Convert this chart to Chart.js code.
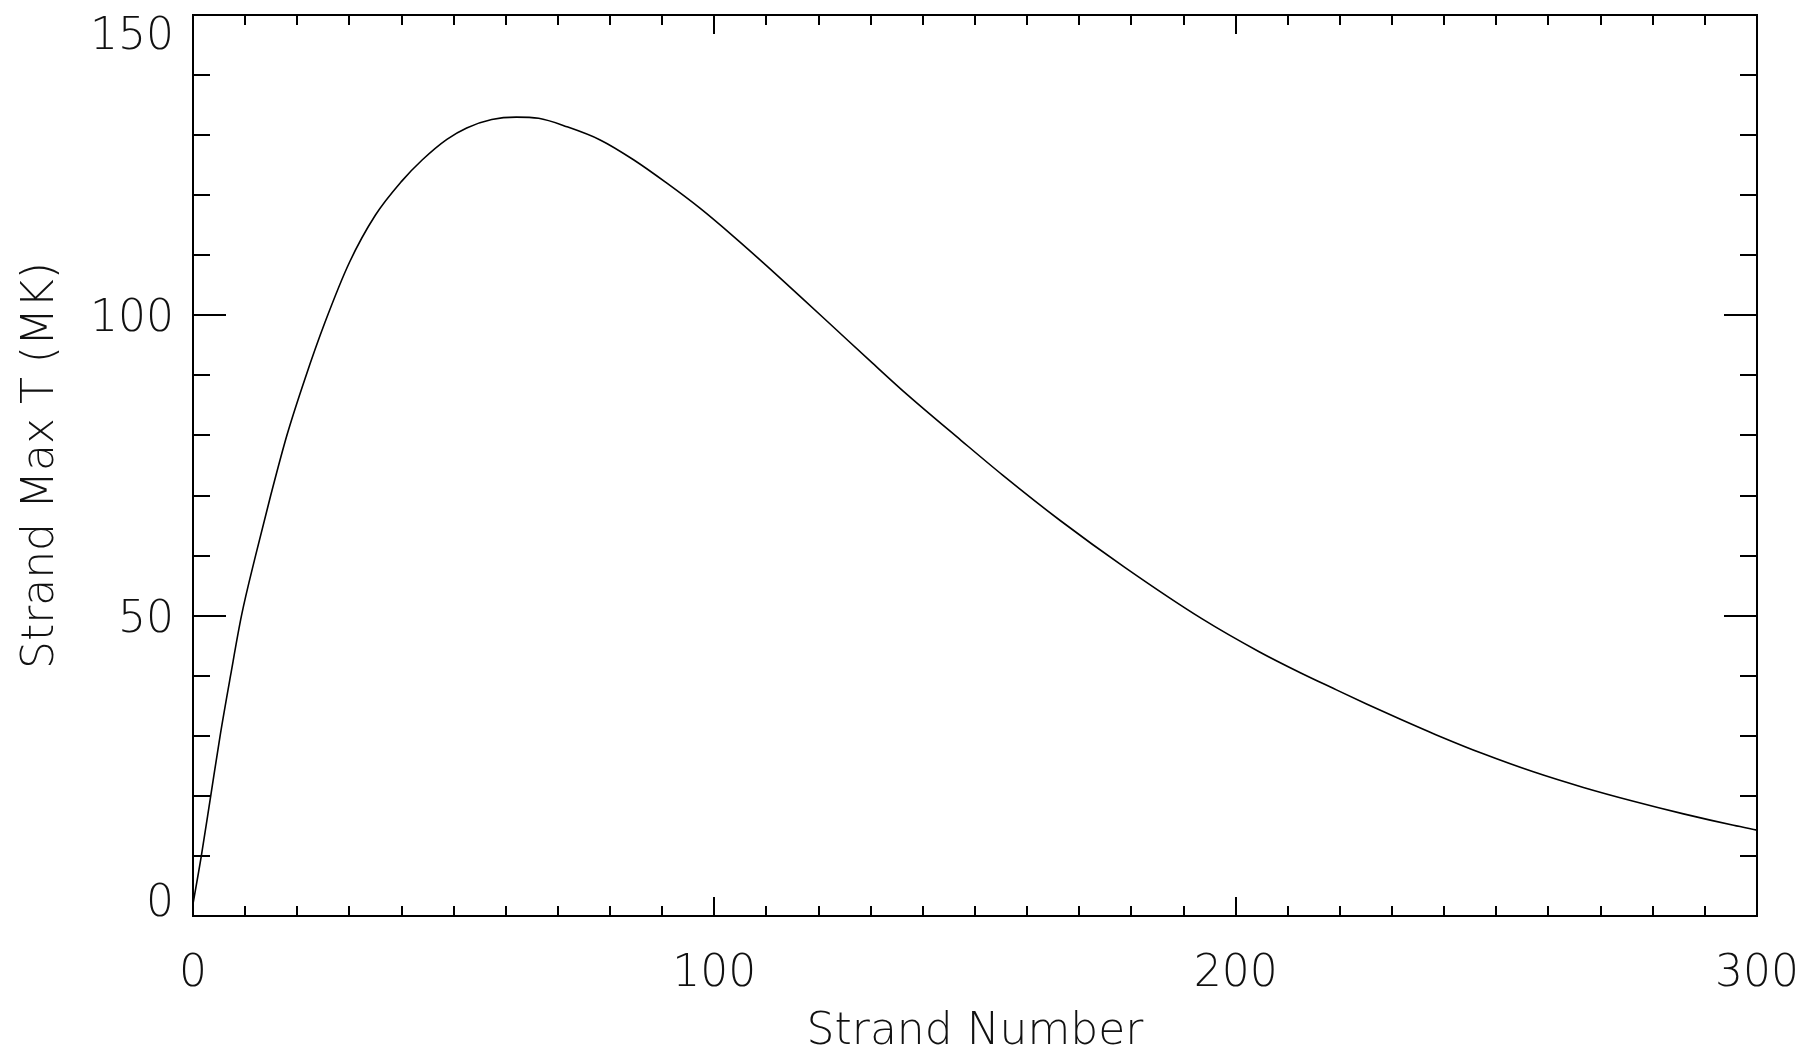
<!DOCTYPE html>
<html>
<head>
<meta charset="utf-8">
<script src="https://cdn.jsdelivr.net/npm/chart.js@4.4.1/dist/chart.umd.min.js"></script>
<style>
  html, body { margin: 0; padding: 0; background: #fff; }
  canvas { display: block; }
</style>
</head>
<body>
<canvas id="strandChart" width="1800" height="1050"></canvas>
<script>
// values
const strandNumber = [0, 1.6, 3.4, 5.2, 7.2, 9.3, 12.0, 14.9, 18.0, 21.5, 25.3, 30.0, 35.0, 40.0, 44.0, 48.7, 52.5, 57.3, 62, 66.3, 71.7, 78.1, 84.5, 90.9, 97.3, 103.6, 110.1, 116.4, 123.4, 130.4, 137, 147.3, 155.3, 166.4, 178.8, 193.5, 204.5, 212.4, 218.7, 225.1, 231.5, 239.2, 247.5, 257.1, 266.7, 276.3, 285.9, 295.5, 300];
const strandMaxT = [2, 10, 20, 30, 40, 50, 60, 70, 80, 89.5, 98.8, 108.8, 116.7, 122.3, 125.9, 129.3, 131.2, 132.6, 133, 132.8, 131.4, 129.2, 125.9, 122.0, 117.8, 113.2, 108.2, 103.2, 97.6, 92.0, 86.8, 79.2, 73.4, 65.8, 58.0, 49.5, 44.0, 40.5, 37.9, 35.3, 32.8, 29.9, 27.0, 24.0, 21.4, 19.1, 17.0, 15.1, 14.3];

const xMajorTicks = [0, 100, 200, 300];
const xMinorTicks = [10, 20, 30, 40, 50, 60, 70, 80, 90, 110, 120, 130, 140, 150, 160, 170, 180, 190, 210, 220, 230, 240, 250, 260, 270, 280, 290];
const yMajorTicks = [0, 50, 100, 150];
const yMinorTicks = [10, 20, 30, 40, 60, 70, 80, 90, 110, 120, 130, 140];
const xTitle = 'Strand Number';
const yTitle = 'Strand Max T (MK)';

const labelFont = '200 44px "DejaVu Sans", sans-serif';
const capHeight = 32;

// IDL style box: frame, inward ticks on all four sides, labels
const idlAxes = {
    id: 'idlAxes',
    afterDraw(chart) {
        const c = chart.ctx;
        const a = chart.chartArea;
        const xs = chart.scales.x;
        const ys = chart.scales.y;
        c.save();
        c.strokeStyle = '#000';
        c.lineWidth = 2;
        c.strokeRect(a.left, a.top, a.right - a.left, a.bottom - a.top);

        c.beginPath();
        function xTick(v, len) {
            const px = Math.round(xs.getPixelForValue(v));
            c.moveTo(px, a.bottom); c.lineTo(px, a.bottom - len);
            c.moveTo(px, a.top); c.lineTo(px, a.top + len);
        }
        function yTick(v, len) {
            const py = Math.round(ys.getPixelForValue(v));
            c.moveTo(a.left, py); c.lineTo(a.left + len, py);
            c.moveTo(a.right, py); c.lineTo(a.right - len, py);
        }
        xMajorTicks.forEach(v => xTick(v, 19));
        xMinorTicks.forEach(v => xTick(v, 10));
        yMajorTicks.forEach(v => yTick(v, 33));
        yMinorTicks.forEach(v => yTick(v, 17));
        c.stroke();

        c.fillStyle = '#111';
        c.font = labelFont;
        c.textBaseline = 'alphabetic';

        c.textAlign = 'center';
        xMajorTicks.forEach(v => {
            c.fillText(String(v), xs.getPixelForValue(v), a.bottom + 70);
        });

        c.textAlign = 'right';
        yMajorTicks.forEach(v => {
            let mid = ys.getPixelForValue(v);
            mid = Math.max(mid, a.top + capHeight / 2 + 2);
            mid = Math.min(mid, a.bottom - capHeight / 2);
            c.fillText(String(v), a.left - 19, mid + capHeight / 2);
        });

        c.textAlign = 'center';
        c.fillText(xTitle, (a.left + a.right) / 2, a.bottom + 128);

        c.translate(53, (a.top + a.bottom) / 2);
        c.rotate(-Math.PI / 2);
        c.fillText(yTitle, 0, 0);
        c.restore();
    }
};

function loadChart() {
    const ctx = document.getElementById('strandChart');
    const points = strandNumber.map((n, i) => ({ x: n, y: strandMaxT[i] }));

    new Chart(ctx, {
        type: 'line',
        data: {
            datasets: [{
                data: points,
                borderColor: '#000',
                borderWidth: 1.6,
                pointRadius: 0,
                fill: false,
                cubicInterpolationMode: 'monotone'
            }]
        },
        options: {
            responsive: false,
            animation: false,
            layout: { padding: { left: 193, right: 43, top: 15, bottom: 134 } },
            plugins: { legend: { display: false }, tooltip: { enabled: false } },
            scales: {
                x: { type: 'linear', min: 0, max: 300, display: false },
                y: { type: 'linear', min: 0, max: 150, display: false }
            }
        },
        plugins: [idlAxes]
    });
}

loadChart();
</script>
</body>
</html>
